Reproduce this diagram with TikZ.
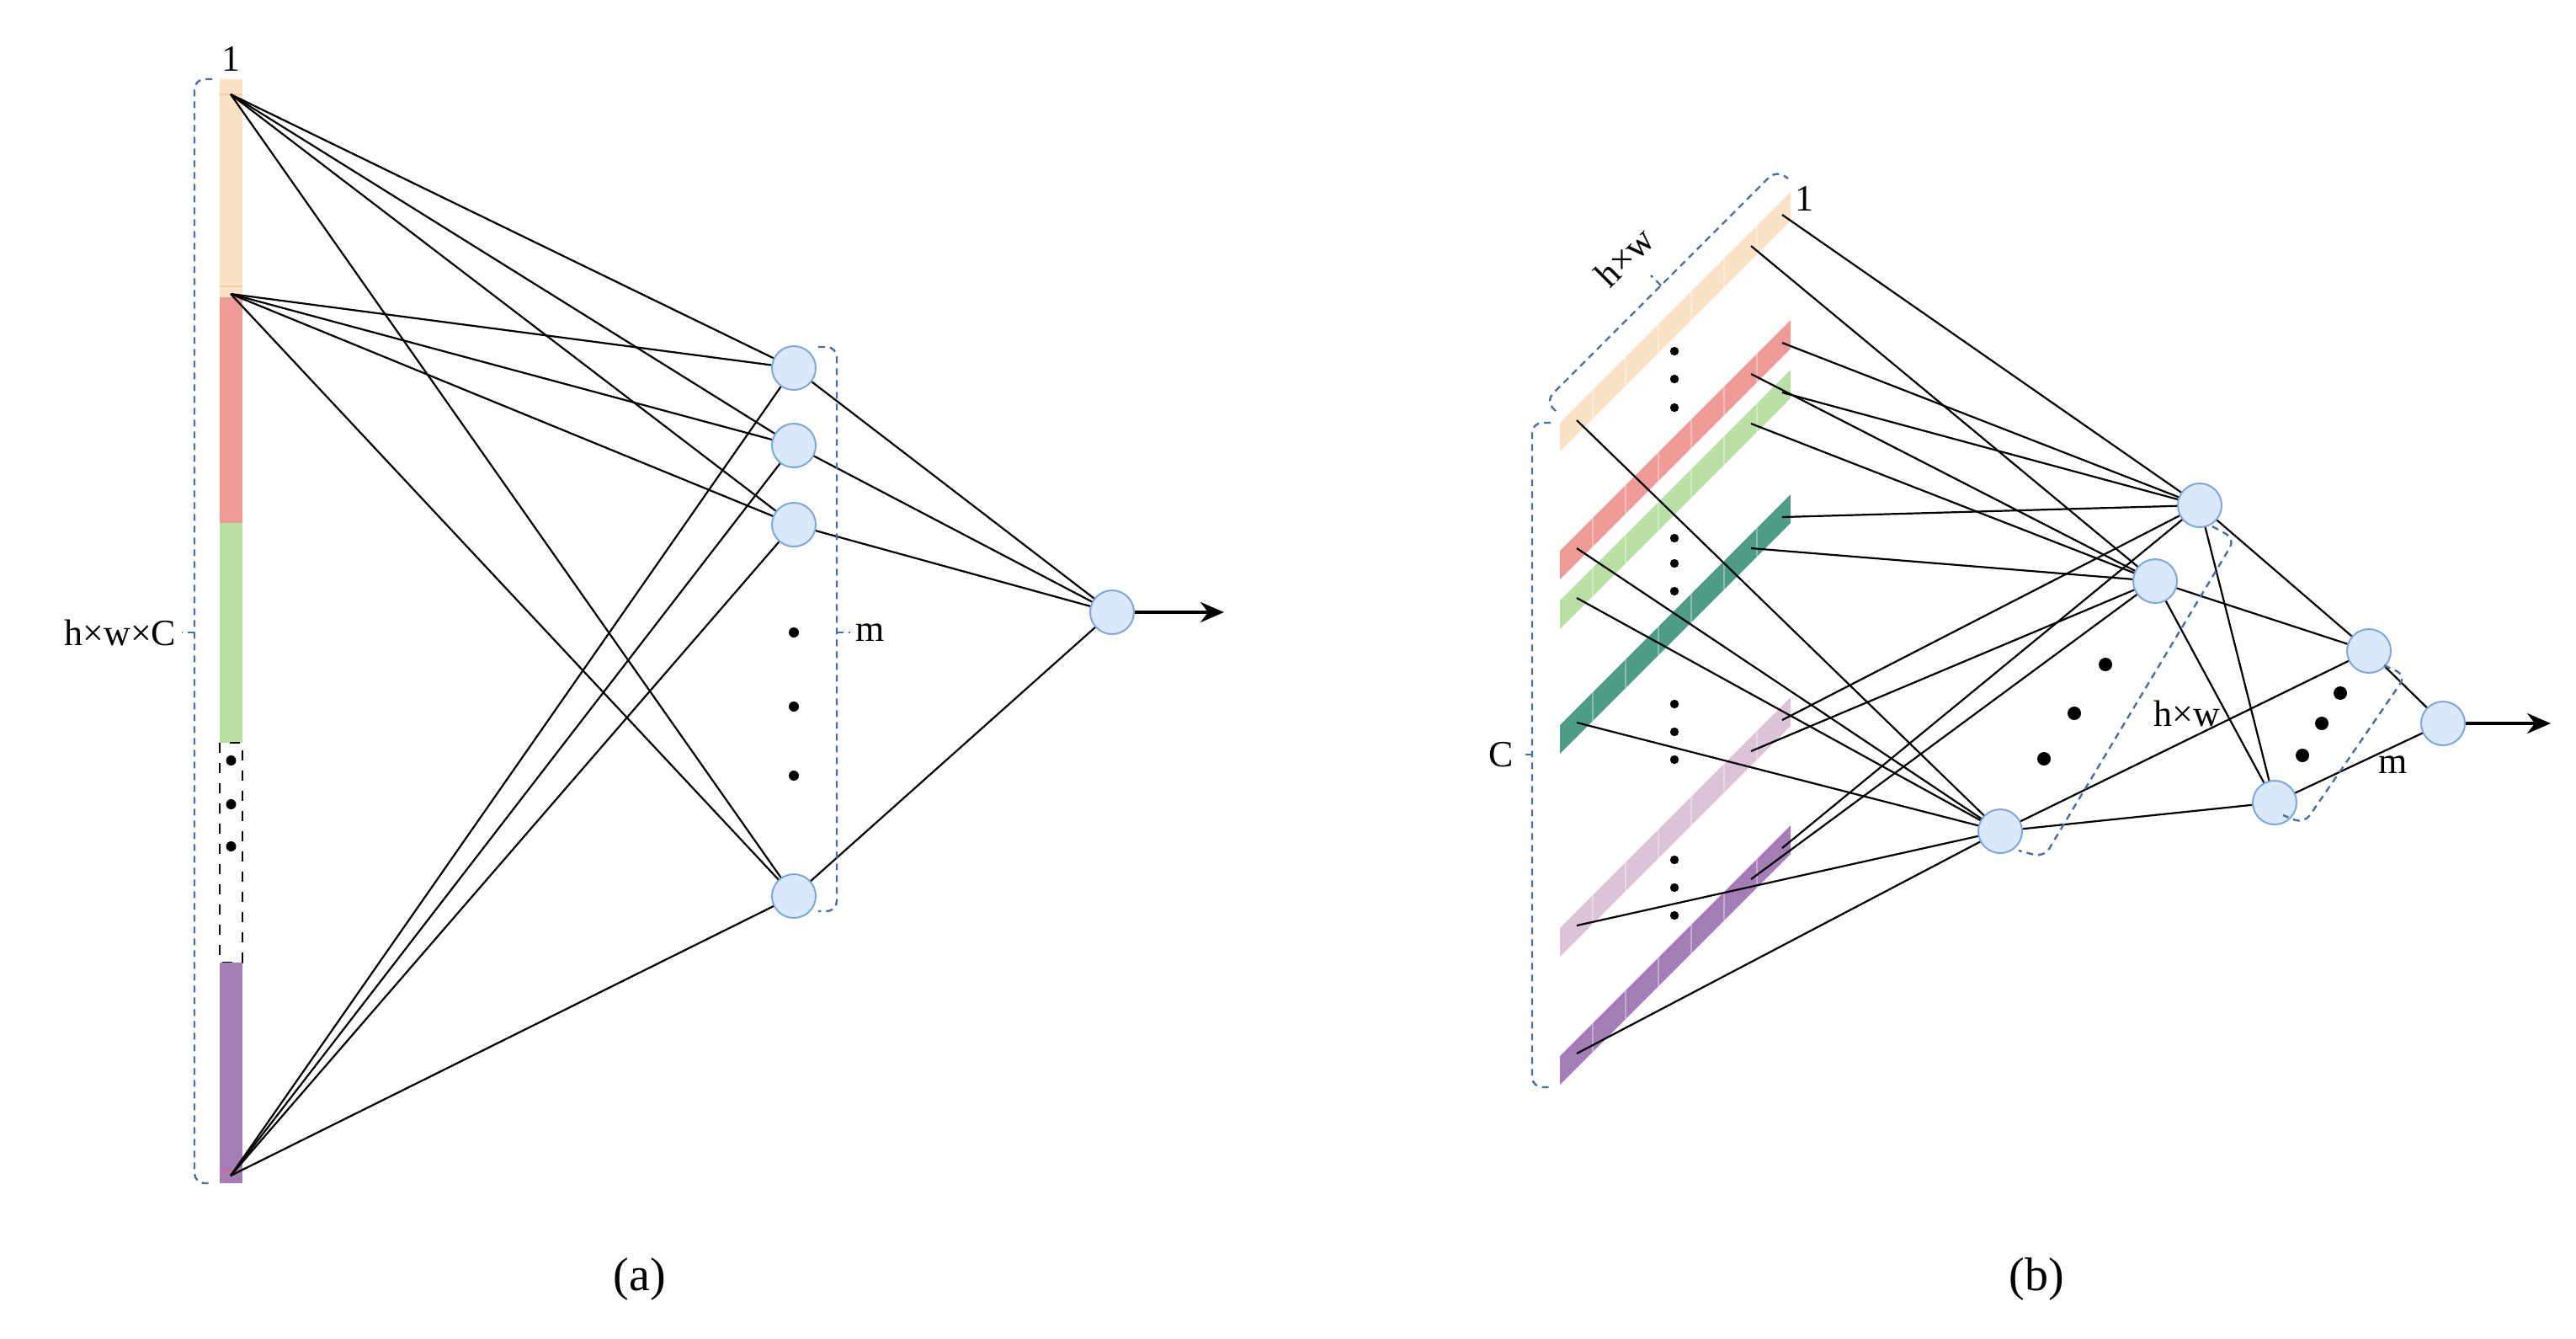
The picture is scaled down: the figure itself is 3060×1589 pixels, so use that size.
\documentclass[tikz,border=0pt]{standalone}
\usepackage{fontspec}
\setmainfont{Liberation Serif}
\usetikzlibrary{arrows.meta}
\definecolor{peach}{HTML}{FBE2C6}
\definecolor{redb}{HTML}{EE9B97}
\definecolor{greenb}{HTML}{B8DFA4}
\definecolor{tealb}{HTML}{4E9C88}
\definecolor{pinkb}{HTML}{DCC3D8}
\definecolor{purpleb}{HTML}{A47DB6}
\definecolor{nodefill}{HTML}{DAE8FC}
\definecolor{nodeline}{HTML}{7EA6E0}
\definecolor{brk}{HTML}{4A6FA5}
\tikzset{
  neuron/.style={circle,draw=nodeline,fill=nodefill,minimum size=13pt,inner sep=0pt,line width=0.5pt},
  link/.style={black,line width=0.55pt},
  bracket/.style={brk,dashed,dash pattern=on 2pt off 1.5pt,line width=0.6pt,rounded corners=3pt},
  lbl/.style={font=\fontsize{11}{13}\selectfont,inner sep=1pt},
  dot/.style={circle,fill=black,inner sep=0pt,minimum size=3pt}
}
% slanted feature bar: name, top y of left end, colour
\newcommand\rbar[3]{%
  \fill[#3] (1853,#2) -- (2127,#2-274) -- (2127,#2-240) -- (1853,#2+34) -- cycle;
  \foreach \k in {1,...,6}
    \draw[white,opacity=0.35,line width=0.4pt] (1853+\k*39,#2-\k*39) -- ++(0,34);
  \coordinate (#1-a) at (2117,#2-247);
  \coordinate (#1-b) at (2080,#2-210);
  \coordinate (#1-c) at (1873,#2-3);
}
\begin{document}
\begin{tikzpicture}[x=0.25pt,y=-0.25pt]
\useasboundingbox (0,0) rectangle (3060,1589);

% (a) stacked input vector
\fill[peach] (261,94) rectangle (288,353);
\fill[redb] (261,353) rectangle (288,621);
\fill[greenb] (261,621) rectangle (288,882);
\draw[black,dashed,line width=0.4pt] (261,882) rectangle (288,1143);
\fill[purpleb] (261,1143) rectangle (288,1405);
\draw[orange!40,line width=0.4pt] (261,112) -- (288,112) (261,340) -- (288,340);
\draw[purple!60,line width=0.4pt] (261,1390) -- (288,1390);
\foreach \y in {903,955,1005} \node[dot] at (274.5,\y) {};
\coordinate (in1) at (274,112);
\coordinate (in2) at (274,349);
\coordinate (in3) at (274,1396);
\node[lbl] (one) at (274,70) {1};

\node[neuron] (h1) at (943,437) {};
\node[neuron] (h2) at (943,529) {};
\node[neuron] (h3) at (943,623) {};
\node[neuron] (h4) at (943,1064) {};
\foreach \y in {751,839,921} \node[dot] at (943,\y) {};
\node[neuron] (out) at (1321,727) {};
\coordinate (arr) at (1454,727);

\foreach \i in {in1,in2,in3}
  \foreach \h in {h1,h2,h3,h4}
    \draw[link] (\i) -- (\h);
\foreach \h in {h1,h2,h3,h4}
  \draw[link] (\h) -- (out);
\draw[-{Stealth[length=7pt,width=6pt]},line width=1pt] (out) -- (arr);

\draw[bracket] (252,94) -- (231,94) -- (231,1405) -- (252,1405);
\draw[bracket,rounded corners=0pt] (231,751) -- (216,751);
\node[lbl,anchor=east] (hwc) at (214,751) {h×w×C};
\draw[bracket] (972,412) -- (994,412) -- (994,1082) -- (972,1082);
\draw[bracket,rounded corners=0pt] (994,751) -- (1010,751);
\node[lbl,anchor=west] (m1) at (1012,751) {m};
\node[font=\fontsize{14}{16}\selectfont] (capa) at (760,1519) {(a)};

% (b) slanted channel bars
\rbar{pe}{502}{peach}
\rbar{re}{654}{redb}
\rbar{gr}{713}{greenb}
\rbar{te}{861}{tealb}
\rbar{pi}{1102}{pinkb}
\rbar{pu}{1254}{purpleb}
\foreach \y in {417,450,484,639,669,702,836,869,902,1021,1054,1087}
  \node[dot,minimum size=2.6pt] at (1989,\y) {};
\node[lbl] (one2) at (2143,236) {1};

\node[neuron] (g1) at (2613,600) {};
\node[neuron] (g2) at (2560,690) {};
\node[neuron] (g3) at (2376,987) {};
\node[neuron] (k1) at (2814,773) {};
\node[neuron] (k2) at (2702,953) {};
\node[neuron] (res) at (2902,859) {};
\coordinate (arr2) at (3030,859);
\foreach \p in {(2501,789),(2464,847),(2428,901),(2780,823),(2758,859),(2735,897)}
  \node[dot,minimum size=4pt] at \p {};

\foreach \b in {pe,re,gr,te,pi,pu}{
  \draw[link] (\b-a) -- (g1);
  \draw[link] (\b-b) -- (g2);
  \draw[link] (\b-c) -- (g3);
}
\foreach \g in {g1,g2,g3}
  \foreach \k in {k1,k2}
    \draw[link] (\g) -- (\k);
\draw[link] (k1) -- (res);
\draw[link] (k2) -- (res);
\draw[-{Stealth[length=7pt,width=6pt]},line width=1pt] (res) -- (arr2);

\draw[bracket] (1842,502) -- (1820,502) -- (1820,1291) -- (1842,1291);
\draw[bracket,rounded corners=0pt] (1820,896) -- (1806,896);
\node[lbl,anchor=east] (cl) at (1803,896) {C};
\draw[bracket] (1848,488) -- (1836,476) -- (2110,202) -- (2124,212);
\draw[bracket,rounded corners=0pt] (1973,339) -- (1961,327);
\node[lbl,rotate=45] (hw1) at (1930,305) {h×w};
\draw[bracket] (2628,625) -- (2655,640) -- (2428,1018) -- (2398,1010);
\node[lbl] (hw2) at (2598,847) {h×w};
\draw[bracket] (2832,790) -- (2858,802) -- (2737,978) -- (2712,968);
\node[lbl] (m2) at (2843,908) {m};
\node[font=\fontsize{14}{16}\selectfont] (capb) at (2419,1519) {(b)};
\end{tikzpicture}
\end{document}
